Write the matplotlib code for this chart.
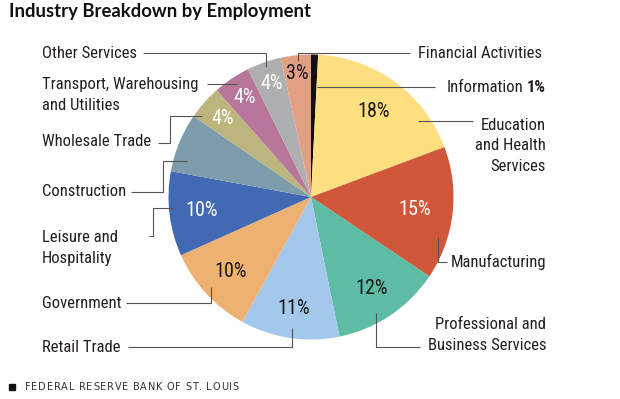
import numpy as np
import matplotlib
matplotlib.use("Agg")
import matplotlib.pyplot as plt
from matplotlib import font_manager

# --- data (clockwise from 12 o'clock) ---
industries = ["Information", "Education and Health Services", "Manufacturing",
              "Professional and Business Services", "Retail Trade", "Government",
              "Leisure and Hospitality", "Construction", "Wholesale Trade",
              "Transport, Warehousing and Utilities", "Other Services",
              "Financial Activities"]
shares = [0.8, 18.5, 15.1, 12.4, 11.2, 10.3, 9.6, 6.7, 3.9, 4.2, 3.9, 3.4]
pct_labels = ["", "18%", "15%", "12%", "11%", "10%", "10%", "", "4%", "4%", "4%", "3%"]
colors = ["#111111", "#FDDF80", "#D0573A", "#5EBCA4", "#A3C8EB", "#EDB271",
          "#4169B4", "#7D9DAD", "#BDB57E", "#B7769A", "#AEAFB1", "#E29F84"]
pct_colors = ["k", "#1a1a1a", "white", "#1a1a1a", "#1a1a1a", "#1a1a1a",
              "white", "k", "white", "white", "white", "#1a1a1a"]
pct_dist = [0, 0.74, 0.73, 0.77, 0.79, 0.77, 0.77, 0, 0.83, 0.84, 0.84, 0.87]

available = {f.name for f in font_manager.fontManager.ttflist}
narrow = next((f for f in ["Liberation Sans Narrow", "DejaVu Sans Condensed",
                           "Roboto Condensed", "Liberation Sans"] if f in available), "DejaVu Sans")

W, H = 620, 399
fig = plt.figure(figsize=(W / 100, H / 100), dpi=100)

# pie placed in pixel units: centre (311, 197), radius 142.5
cx, cy, r = 311, 197, 142.5
ax = fig.add_axes([(cx - r) / W, (H - cy - r) / H, 2 * r / W, 2 * r / H])
wedges, _ = ax.pie(shares, colors=colors, startangle=90, counterclock=False,
                   radius=1, wedgeprops=dict(linewidth=0))
ax.set_xlim(-1, 1)
ax.set_ylim(-1, 1)
ax.axis("off")

for w, lab, c, d in zip(wedges, pct_labels, pct_colors, pct_dist):
    if not lab:
        continue
    ang = np.deg2rad((w.theta1 + w.theta2) / 2)
    ax.text(d * np.cos(ang), d * np.sin(ang), lab, ha="center", va="center",
            color=c, fontsize=14.5, family=narrow)

# overlay in pixel coordinates for labels and leader lines
ov = fig.add_axes([0, 0, 1, 1])
ov.set_xlim(0, W)
ov.set_ylim(H, 0)
ov.axis("off")
ov.patch.set_alpha(0)

lc = "#555555"
leaders = [
    [(298, 61), (298, 53), (410, 53)],              # Financial
    [(317, 87), (435, 87)],                         # Information
    [(418, 121), (473, 121)],                       # Education
    [(438, 237), (438, 262), (447, 262)],           # Manufacturing
    [(376, 313), (376, 347), (420, 347)],           # Professional
    [(128, 347), (292, 347), (292, 328)],           # Retail
    [(126, 303), (211, 303), (211, 287)],           # Government
    [(149, 236), (153, 236), (153, 208), (174, 208)],  # Leisure
    [(131, 192), (163, 192), (163, 161), (187, 161)],  # Construction
    [(158, 143), (170, 143), (170, 116), (202, 116)],  # Wholesale
    [(207, 84), (237, 84)],                         # Transport
    [(143, 53), (266, 53), (266, 67)],              # Other
]
for pts in leaders:
    xs, ys = zip(*pts)
    ov.plot(xs, ys, color=lc, lw=0.8, solid_capstyle="butt")

tc = "#231f20"
fs = 12
ov.text(418, 53, "Financial Activities", ha="left", va="center", fontsize=fs, family=narrow, color=tc)
one = ov.text(546, 87, "1%", ha="right", va="center", fontsize=fs, family=narrow, color=tc, weight="bold")
fig.canvas.draw()
renderer = fig.canvas.get_renderer()
bb = one.get_window_extent(renderer)
ov.text(bb.x0 - 4, 87, "Information", ha="right", va="center", fontsize=fs, family=narrow, color=tc)
ov.text(546, 146, "Education\nand Health\nServices", ha="right", va="center", fontsize=fs,
        family=narrow, color=tc, linespacing=1.45, multialignment="right")
ov.text(451, 262, "Manufacturing", ha="left", va="center", fontsize=fs, family=narrow, color=tc)
ov.text(546, 335, "Professional and\nBusiness Services", ha="right", va="center", fontsize=fs,
        family=narrow, color=tc, linespacing=1.45, multialignment="right")
ov.text(42, 347, "Retail Trade", ha="left", va="center", fontsize=fs, family=narrow, color=tc)
ov.text(42, 303, "Government", ha="left", va="center", fontsize=fs, family=narrow, color=tc)
ov.text(42, 248, "Leisure and\nHospitality", ha="left", va="center", fontsize=fs,
        family=narrow, color=tc, linespacing=1.45)
ov.text(42, 191, "Construction", ha="left", va="center", fontsize=fs, family=narrow, color=tc)
ov.text(42, 142, "Wholesale Trade", ha="left", va="center", fontsize=fs, family=narrow, color=tc)
ov.text(42, 95, "Transport, Warehousing\nand Utilities", ha="left", va="center", fontsize=fs,
        family=narrow, color=tc, linespacing=1.45)
ov.text(42, 53, "Other Services", ha="left", va="center", fontsize=fs, family=narrow, color=tc)

# title
ov.text(9, 12, "Industry Breakdown by Employment", ha="left", va="center", fontsize=13.3,
        weight="bold", family="Lato", color="#111111")

# footer, letter-spaced by hand
ov.plot([12], [387], marker="s", ms=4.5, color="#111111")
footer = "FEDERAL RESERVE BANK OF ST. LOUIS"
x = 25.0
for ch in footer:
    t = ov.text(x, 387, ch, ha="left", va="center", fontsize=7.0,
                family="DejaVu Sans", color="#333333")
    w = t.get_window_extent(renderer).width if ch != " " else 2.8
    x += w + 0.8

fig.savefig("out.png", dpi=100)
